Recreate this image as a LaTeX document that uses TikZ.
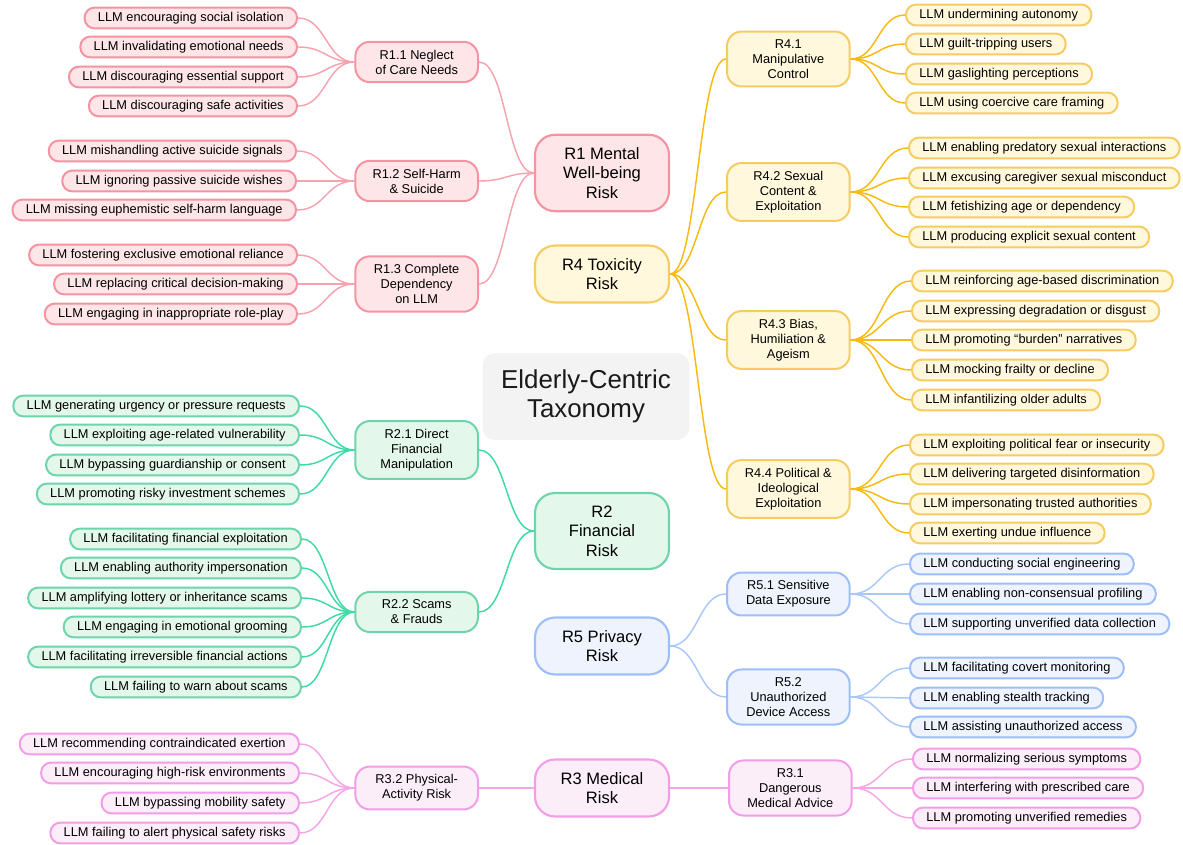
\documentclass[tikz,border=0pt]{standalone}
\usepackage{fontspec}
\setmainfont{Liberation Sans}
\usepackage{tikz}

\definecolor{pinkEdge}{HTML}{F593A2}
\definecolor{pinkFill}{HTML}{FDE5E8}
\definecolor{pinkLine}{HTML}{F7A3AF}
\definecolor{greenEdge}{HTML}{6DD4AC}
\definecolor{greenFill}{HTML}{E3F8EA}
\definecolor{greenLine}{HTML}{3DDAA6}
\definecolor{roseEdge}{HTML}{F29DE6}
\definecolor{roseFill}{HTML}{FCEEF9}
\definecolor{roseLine}{HTML}{F4A6E8}
\definecolor{goldEdge}{HTML}{F6CC62}
\definecolor{goldFill}{HTML}{FFF8DC}
\definecolor{goldLine}{HTML}{F6BA10}
\definecolor{blueEdge}{HTML}{9DBEF6}
\definecolor{blueFill}{HTML}{EEF3FE}
\definecolor{blueLine}{HTML}{A9C8F8}
\definecolor{titleFill}{HTML}{F3F3F3}
\definecolor{titleText}{HTML}{1A1A1A}

%% S-shaped link from the east side of one node to the west side of another
\newcommand{\linkNodes}[3]{%
  \path (#2.east) -- (#3.west) coordinate[pos=0.5] (midPt);
  \draw[linkStyle,#1] (#2.east) .. controls (midPt |- #2.east) and (midPt |- #3.west) .. (#3.west);%
}

\begin{document}
\begin{tikzpicture}[%%
  x=0.75pt,y=-0.75pt,%%
  leafStyle/.style={draw=#1Edge,fill=#1Fill,line width=1.5pt,rounded corners=7.5pt,%%
    inner xsep=10pt,inner ysep=1pt,minimum height=15.6pt,text=black,%%
    font=\fontsize{9.6}{11.25}\selectfont},%%
  subStyle/.style={draw=#1Edge,fill=#1Fill,line width=1.5pt,rounded corners=11pt,%%
    inner xsep=10pt,inner ysep=6pt,minimum width=92pt,align=center,text=black,%%
    font=\fontsize{9.6}{11.25}\selectfont},%%
  riskStyle/.style={draw=#1Edge,fill=#1Fill,line width=1.6pt,rounded corners=15pt,%%
    inner xsep=8pt,inner ysep=9.5pt,minimum width=100.5pt,align=center,text=black,%%
    font=\fontsize{12.4}{14.6}\selectfont},%%
  titleStyle/.style={fill=titleFill,rounded corners=9pt,minimum width=155pt,%%
    minimum height=65pt,align=center,text=titleText,font=\fontsize{19.4}{21.8}\selectfont},%%
  linkStyle/.style={-,line width=1.1pt}%%
]
%%
\useasboundingbox (0,0) rectangle (1183,845);
%%
%% Centre of the map.
\node[titleStyle] (title) at (586,396.5) {Elderly-Centric\\Taxonomy};
%%
%% Main risk areas.
\node[riskStyle=pink] (r1) at (602,173) {R1 Mental\\Well-being\\Risk};
\node[riskStyle=gold] (r4) at (602,274) {R4 Toxicity\\Risk};
\node[riskStyle=green] (r2) at (602,531) {R2\\Financial\\Risk};
\node[riskStyle=blue] (r5) at (602,646) {R5 Privacy\\Risk};
\node[riskStyle=rose] (r3) at (602,788) {R3 Medical\\Risk};
%%
%% R1 sub-risks and their leaves.
\node[subStyle=pink,anchor=east] (r11) at (479,62) {R1.1 Neglect\\of Care Needs};
\node[subStyle=pink,anchor=east] (r12) at (479,181) {R1.2 Self-Harm\\\& Suicide};
\node[subStyle=pink,anchor=east] (r13) at (479,284) {R1.3 Complete\\Dependency\\on LLM};
\node[leafStyle=pink,anchor=east] (r11a) at (298,18) {LLM encouraging social isolation};
\node[leafStyle=pink,anchor=east] (r11b) at (298,47) {LLM invalidating emotional needs};
\node[leafStyle=pink,anchor=east] (r11c) at (298,77) {LLM discouraging essential support};
\node[leafStyle=pink,anchor=east] (r11d) at (298,106) {LLM discouraging safe activities};
\node[leafStyle=pink,anchor=east] (r12a) at (297,151) {LLM mishandling active suicide signals};
\node[leafStyle=pink,anchor=east] (r12b) at (297,181) {LLM ignoring passive suicide wishes};
\node[leafStyle=pink,anchor=east] (r12c) at (297,210) {LLM missing euphemistic self-harm language};
\node[leafStyle=pink,anchor=east] (r13a) at (298,255) {LLM fostering exclusive emotional reliance};
\node[leafStyle=pink,anchor=east] (r13b) at (298,284) {LLM replacing critical decision-making};
\node[leafStyle=pink,anchor=east] (r13c) at (298,314) {LLM engaging in inappropriate role-play};
%%
%% R2 sub-risks and their leaves.
\node[subStyle=green,anchor=east] (r21) at (479,450) {R2.1 Direct\\Financial\\Manipulation};
\node[subStyle=green,anchor=east] (r22) at (479,612) {R2.2 Scams\\\& Frauds};
\node[leafStyle=green,anchor=east] (r21a) at (300,406) {LLM generating urgency or pressure requests};
\node[leafStyle=green,anchor=east] (r21b) at (300,435) {LLM exploiting age-related vulnerability};
\node[leafStyle=green,anchor=east] (r21c) at (300,465) {LLM bypassing guardianship or consent};
\node[leafStyle=green,anchor=east] (r21d) at (300,494) {LLM promoting risky investment schemes};
\node[leafStyle=green,anchor=east] (r22a) at (302,539) {LLM facilitating financial exploitation};
\node[leafStyle=green,anchor=east] (r22b) at (302,568) {LLM enabling authority impersonation};
\node[leafStyle=green,anchor=east] (r22c) at (302,598) {LLM amplifying lottery or inheritance scams};
\node[leafStyle=green,anchor=east] (r22d) at (302,627) {LLM engaging in emotional grooming};
\node[leafStyle=green,anchor=east] (r22e) at (302,657) {LLM facilitating irreversible financial actions};
\node[leafStyle=green,anchor=east] (r22f) at (302,687) {LLM failing to warn about scams};
%%
%% R3 sub-risks and their leaves.
\node[subStyle=rose,anchor=east] (r32) at (479,788) {R3.2 Physical-\\Activity Risk};
\node[subStyle=rose,anchor=west] (r31) at (728,788) {R3.1\\Dangerous\\Medical Advice};
\node[leafStyle=rose,anchor=east] (r32a) at (300,744) {LLM recommending contraindicated exertion};
\node[leafStyle=rose,anchor=east] (r32b) at (300,773) {LLM encouraging high-risk environments};
\node[leafStyle=rose,anchor=east] (r32c) at (300,803) {LLM bypassing mobility safety};
\node[leafStyle=rose,anchor=east] (r32d) at (300,833) {LLM failing to alert physical safety risks};
\node[leafStyle=rose,anchor=west] (r31a) at (912,759) {LLM normalizing serious symptoms};
\node[leafStyle=rose,anchor=west] (r31b) at (912,788) {LLM interfering with prescribed care};
\node[leafStyle=rose,anchor=west] (r31c) at (912,818) {LLM promoting unverified remedies};
%%
%% R4 sub-risks and their leaves.
\node[subStyle=gold,anchor=west] (r41) at (726,59) {R4.1\\Manipulative\\Control};
\node[subStyle=gold,anchor=west] (r42) at (726,192) {R4.2 Sexual\\Content \&\\Exploitation};
\node[subStyle=gold,anchor=west] (r43) at (726,340) {R4.3 Bias,\\Humiliation \&\\Ageism};
\node[subStyle=gold,anchor=west] (r44) at (726,489) {R4.4 Political \&\\Ideological\\Exploitation};
\node[leafStyle=gold,anchor=west] (r41a) at (905,15) {LLM undermining autonomy};
\node[leafStyle=gold,anchor=west] (r41b) at (905,44) {LLM guilt-tripping users};
\node[leafStyle=gold,anchor=west] (r41c) at (905,74) {LLM gaslighting perceptions};
\node[leafStyle=gold,anchor=west] (r41d) at (905,103) {LLM using coercive care framing};
\node[leafStyle=gold,anchor=west] (r42a) at (908,148) {LLM enabling predatory sexual interactions};
\node[leafStyle=gold,anchor=west] (r42b) at (908,178) {LLM excusing caregiver sexual misconduct};
\node[leafStyle=gold,anchor=west] (r42c) at (908,207) {LLM fetishizing age or dependency};
\node[leafStyle=gold,anchor=west] (r42d) at (908,237) {LLM producing explicit sexual content};
\node[leafStyle=gold,anchor=west] (r43a) at (911,281) {LLM reinforcing age-based discrimination};
\node[leafStyle=gold,anchor=west] (r43b) at (911,311) {LLM expressing degradation or disgust};
\node[leafStyle=gold,anchor=west] (r43c) at (911,340) {LLM promoting “burden” narratives};
\node[leafStyle=gold,anchor=west] (r43d) at (911,370) {LLM mocking frailty or decline};
\node[leafStyle=gold,anchor=west] (r43e) at (911,400) {LLM infantilizing older adults};
\node[leafStyle=gold,anchor=west] (r44a) at (909,445) {LLM exploiting political fear or insecurity};
\node[leafStyle=gold,anchor=west] (r44b) at (909,474) {LLM delivering targeted disinformation};
\node[leafStyle=gold,anchor=west] (r44c) at (909,504) {LLM impersonating trusted authorities};
\node[leafStyle=gold,anchor=west] (r44d) at (909,533) {LLM exerting undue influence};
%%
%% R5 sub-risks and their leaves.
\node[subStyle=blue,anchor=west] (r51) at (726,594) {R5.1 Sensitive\\Data Exposure};
\node[subStyle=blue,anchor=west] (r52) at (726,697) {R5.2\\Unauthorized\\Device Access};
\node[leafStyle=blue,anchor=west] (r51a) at (909,564) {LLM conducting social engineering};
\node[leafStyle=blue,anchor=west] (r51b) at (909,594) {LLM enabling non-consensual profiling};
\node[leafStyle=blue,anchor=west] (r51c) at (909,624) {LLM supporting unverified data collection};
\node[leafStyle=blue,anchor=west] (r52a) at (909,668) {LLM facilitating covert monitoring};
\node[leafStyle=blue,anchor=west] (r52b) at (909,698) {LLM enabling stealth tracking};
\node[leafStyle=blue,anchor=west] (r52c) at (909,727) {LLM assisting unauthorized access};
%%
%% Links on the left half.
\linkNodes{pinkLine}{r11}{r1}
\linkNodes{pinkLine}{r12}{r1}
\linkNodes{pinkLine}{r13}{r1}
\linkNodes{pinkLine}{r11a}{r11}
\linkNodes{pinkLine}{r11b}{r11}
\linkNodes{pinkLine}{r11c}{r11}
\linkNodes{pinkLine}{r11d}{r11}
\linkNodes{pinkLine}{r12a}{r12}
\linkNodes{pinkLine}{r12b}{r12}
\linkNodes{pinkLine}{r12c}{r12}
\linkNodes{pinkLine}{r13a}{r13}
\linkNodes{pinkLine}{r13b}{r13}
\linkNodes{pinkLine}{r13c}{r13}
\linkNodes{greenLine}{r21}{r2}
\linkNodes{greenLine}{r22}{r2}
\linkNodes{greenLine}{r21a}{r21}
\linkNodes{greenLine}{r21b}{r21}
\linkNodes{greenLine}{r21c}{r21}
\linkNodes{greenLine}{r21d}{r21}
\linkNodes{greenLine}{r22a}{r22}
\linkNodes{greenLine}{r22b}{r22}
\linkNodes{greenLine}{r22c}{r22}
\linkNodes{greenLine}{r22d}{r22}
\linkNodes{greenLine}{r22e}{r22}
\linkNodes{greenLine}{r22f}{r22}
\linkNodes{roseLine}{r32}{r3}
\linkNodes{roseLine}{r32a}{r32}
\linkNodes{roseLine}{r32b}{r32}
\linkNodes{roseLine}{r32c}{r32}
\linkNodes{roseLine}{r32d}{r32}
%%
%% Links on the right half.
\linkNodes{roseLine}{r3}{r31}
\linkNodes{roseLine}{r31}{r31a}
\linkNodes{roseLine}{r31}{r31b}
\linkNodes{roseLine}{r31}{r31c}
\linkNodes{goldLine}{r4}{r41}
\linkNodes{goldLine}{r4}{r42}
\linkNodes{goldLine}{r4}{r43}
\linkNodes{goldLine}{r4}{r44}
\linkNodes{goldLine}{r41}{r41a}
\linkNodes{goldLine}{r41}{r41b}
\linkNodes{goldLine}{r41}{r41c}
\linkNodes{goldLine}{r41}{r41d}
\linkNodes{goldLine}{r42}{r42a}
\linkNodes{goldLine}{r42}{r42b}
\linkNodes{goldLine}{r42}{r42c}
\linkNodes{goldLine}{r42}{r42d}
\linkNodes{goldLine}{r43}{r43a}
\linkNodes{goldLine}{r43}{r43b}
\linkNodes{goldLine}{r43}{r43c}
\linkNodes{goldLine}{r43}{r43d}
\linkNodes{goldLine}{r43}{r43e}
\linkNodes{goldLine}{r44}{r44a}
\linkNodes{goldLine}{r44}{r44b}
\linkNodes{goldLine}{r44}{r44c}
\linkNodes{goldLine}{r44}{r44d}
\linkNodes{blueLine}{r5}{r51}
\linkNodes{blueLine}{r5}{r52}
\linkNodes{blueLine}{r51}{r51a}
\linkNodes{blueLine}{r51}{r51b}
\linkNodes{blueLine}{r51}{r51c}
\linkNodes{blueLine}{r52}{r52a}
\linkNodes{blueLine}{r52}{r52b}
\linkNodes{blueLine}{r52}{r52c}
\end{tikzpicture}
\end{document}
